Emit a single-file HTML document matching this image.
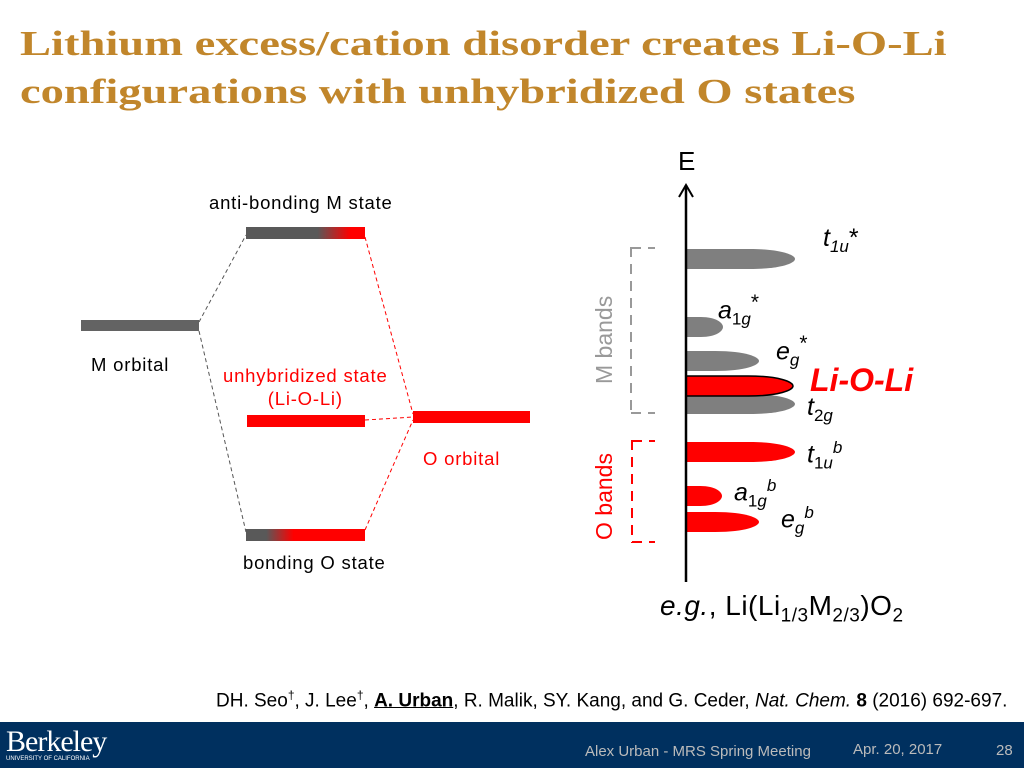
<!DOCTYPE html>
<html><head><meta charset="utf-8"><style>
body{margin:0;width:1024px;height:768px;overflow:hidden;background:#fff;position:relative;font-family:"Liberation Sans",sans-serif}
.t{position:absolute;white-space:nowrap}
.lb{font-size:18.5px;letter-spacing:0.8px}
h1{position:absolute;left:20px;top:20px;margin:0;font:bold 35px/48px "Liberation Serif",serif;color:#c1862b;transform:scaleX(1.33);transform-origin:0 0;white-space:nowrap}
svg{position:absolute;left:0;top:0}
</style></head><body>
<h1>Lithium excess/cation disorder creates Li-O-Li<br>configurations with unhybridized O states</h1>
<svg width="1024" height="768">
<defs>
<linearGradient id="ga" x1="246" x2="365" gradientUnits="userSpaceOnUse"><stop offset="0.6" stop-color="#595959"/><stop offset="0.88" stop-color="#f00"/></linearGradient>
<linearGradient id="gb" x1="246" x2="365" gradientUnits="userSpaceOnUse"><stop offset="0.17" stop-color="#595959"/><stop offset="0.4" stop-color="#f00"/></linearGradient>
</defs>
<g><rect x="81" y="320" width="118" height="11" fill="#636363"/></g>
<rect x="246" y="227" width="119" height="12" fill="url(#ga)"/>
<rect x="247" y="415" width="118" height="12" fill="#f00"/>
<rect x="413" y="411" width="117" height="12" fill="#f00"/>
<rect x="246" y="529" width="119" height="12" fill="url(#gb)"/>
<g stroke="#555" stroke-dasharray="4,3" stroke-width="1">
<line x1="199" y1="322" x2="246" y2="235"/><line x1="199" y1="331" x2="246" y2="532"/></g>
<g stroke="#f00" stroke-dasharray="4,3" stroke-width="1">
<line x1="365" y1="237" x2="413" y2="414"/><line x1="365" y1="420" x2="413" y2="417"/><line x1="365" y1="530" x2="413" y2="420"/></g>
<g id="bands"></g>
<line x1="686" y1="582" x2="686" y2="185" stroke="#000" stroke-width="2.5"/>
<polyline points="679,197 686,185 693,197" fill="none" stroke="#000" stroke-width="2"/>
<g stroke="#999" stroke-width="2" fill="none" stroke-dasharray="10,7">
<line x1="631" y1="247" x2="631" y2="414"/><line x1="631" y1="248" x2="655" y2="248"/><line x1="631" y1="413" x2="655" y2="413"/></g>
<g stroke="#f00" stroke-width="2" fill="none" stroke-dasharray="10,7">
<line x1="632" y1="440" x2="632" y2="543"/><line x1="632" y1="441" x2="655" y2="441"/><line x1="632" y1="542" x2="655" y2="542"/></g>
<text transform="translate(612,384) rotate(-90)" font-family="Liberation Sans" font-size="23" fill="#999">M bands</text>
<text transform="translate(612,540) rotate(-90)" font-family="Liberation Sans" font-size="23" fill="#f00">O bands</text>
</svg>
<div class="t lb" style="left:209px;top:192px">anti-bonding M state</div>
<div class="t lb" style="left:91px;top:354px">M orbital</div>
<div class="t lb" style="left:223px;top:364px;color:#f00;text-align:center;line-height:23px">unhybridized state<br>(Li-O-Li)</div>
<div class="t lb" style="left:423px;top:448px;color:#f00">O orbital</div>
<div class="t lb" style="left:243px;top:552px">bonding O state</div>
<div class="t" style="left:678px;top:146px;font-size:26px">E</div>
<div class="t" style="left:823px;top:224px;font-size:25px"><i>t</i><sub style="font-size:17px"><i>1u</i></sub>*</div>
<div class="t" style="left:718px;top:291px;font-size:25px"><i>a</i><sub style="font-size:17px">1<i>g</i></sub><sup>*</sup></div>
<div class="t" style="left:776px;top:332px;font-size:25px"><i>e</i><sub style="font-size:17px"><i>g</i></sub><sup>*</sup></div>
<div class="t" style="left:810px;top:362px;font-size:32px;font-weight:bold;font-style:italic;color:#f00">Li-O-Li</div>
<div class="t" style="left:807px;top:393px;font-size:25px"><i>t</i><sub style="font-size:17px">2<i>g</i></sub></div>
<div class="t" style="left:807px;top:438px;font-size:25px"><i>t</i><sub style="font-size:17px">1<i>u</i></sub><sup style="font-size:17px"><i>b</i></sup></div>
<div class="t" style="left:734px;top:476px;font-size:25px"><i>a</i><sub style="font-size:17px">1<i>g</i></sub><sup style="font-size:17px"><i>b</i></sup></div>
<div class="t" style="left:781px;top:503px;font-size:25px"><i>e</i><sub style="font-size:17px"><i>g</i></sub><sup style="font-size:17px"><i>b</i></sup></div>
<div class="t" style="left:660px;top:590px;font-size:28px;letter-spacing:0.5px"><i>e.g.</i>, Li(Li<sub style="font-size:19px">1/3</sub>M<sub style="font-size:19px">2/3</sub>)O<sub style="font-size:19px">2</sub></div>
<div class="t" style="left:216px;top:688px;font-size:19px">DH. Seo<sup style="font-size:12px">†</sup>, J. Lee<sup style="font-size:12px">†</sup>, <b><u>A. Urban</u></b>, R. Malik, SY. Kang, and G. Ceder, <i>Nat. Chem.</i> <b>8</b> (2016) 692-697.</div>
<div style="position:absolute;left:0;top:722px;width:1024px;height:46px;background:#00305f">
<div class="t" style="left:6px;top:3px;color:#fff;font:30px 'Liberation Serif',serif;letter-spacing:-1px">Berkeley</div>
<div class="t" style="left:6px;top:34px;color:#fff;font-size:6px">UNIVERSITY OF CALIFORNIA</div>
<div class="t" style="left:585px;top:21px;color:#bbb;font-size:15px">Alex Urban - MRS Spring Meeting</div>
<div class="t" style="left:853px;top:19px;color:#bbb;font-size:15px">Apr. 20, 2017</div>
<div class="t" style="left:996px;top:20px;color:#bbb;font-size:15px">28</div>
</div>
<script>
const bandNames=['t1u-star','a1g-star','eg-star','t2g','li-o-li','t1u-b','a1g-b','eg-b'];
const bandEnergy=[259,327,361,404,386,452,496,522];
const bandWidth=[109,37,73,109,107,109,36,73];
const bandColor=['#7f7f7f','#7f7f7f','#7f7f7f','#7f7f7f','#f00','#f00','#f00','#f00'];
const g=document.getElementById('bands');
const x0=686,h=10;
for(let i=0;i<bandNames.length;i++){
  const y=bandEnergy[i],xr=x0+bandWidth[i],k=Math.min(bandWidth[i]*0.6,45);
  const p=document.createElementNS('http://www.w3.org/2000/svg','path');
  p.setAttribute('d',`M${x0} ${y-h} L${xr-k} ${y-h} C${xr-k*0.3} ${y-h} ${xr} ${y-h*0.4} ${xr} ${y} C${xr} ${y+h*0.4} ${xr-k*0.3} ${y+h} ${xr-k} ${y+h} L${x0} ${y+h}Z`);
  p.setAttribute('fill',bandColor[i]);
  if(bandNames[i]==='li-o-li'){p.setAttribute('stroke','#000');p.setAttribute('stroke-width','1.5');}
  
  
  g.appendChild(p);
}
</script>
</body></html>
